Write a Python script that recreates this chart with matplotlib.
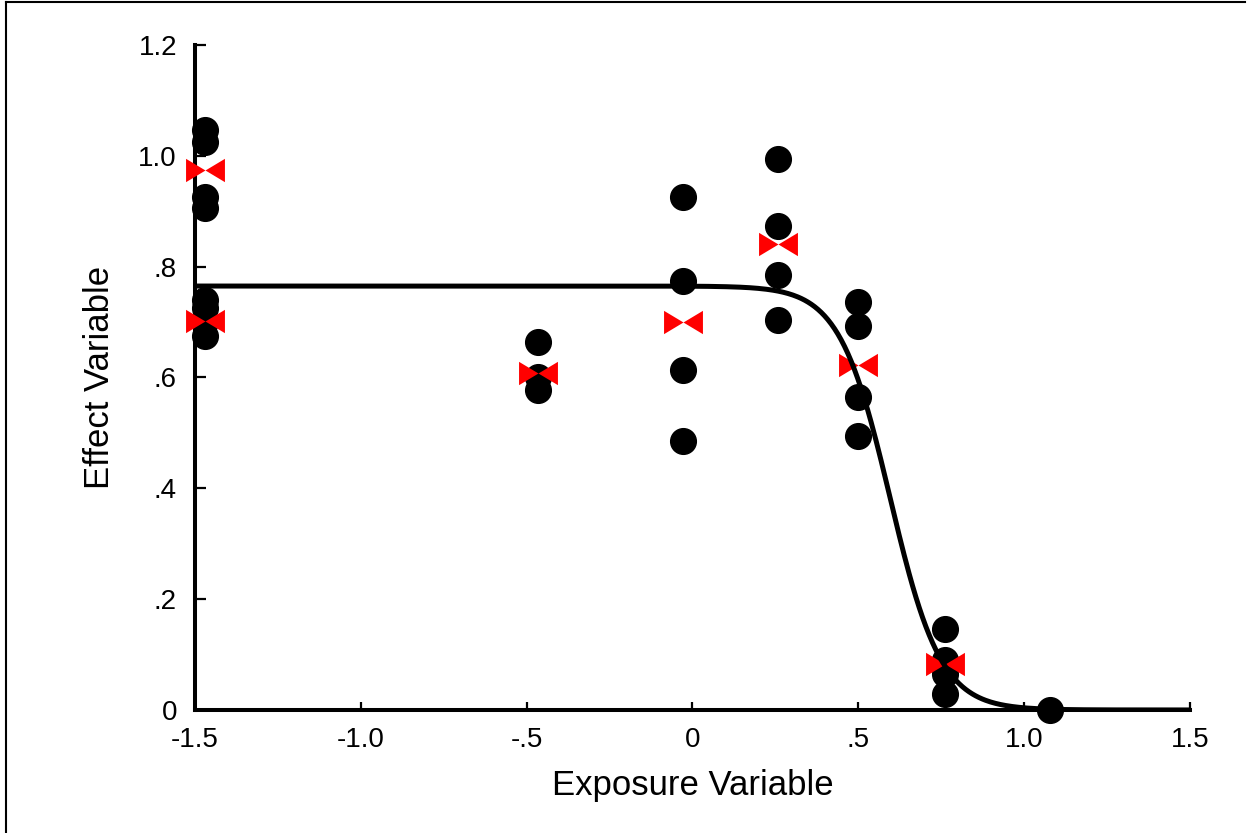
import matplotlib
matplotlib.use("Agg")
import matplotlib.pyplot as plt
from matplotlib.path import Path
from matplotlib.lines import Line2D
import numpy as np
from matplotlib import font_manager

# ---- data ----
x_groups = [-1.47, -1.47, -0.465, -0.028, 0.258, 0.499, 0.761, 1.078]
y_groups = [
    [1.047, 1.025, 0.926, 0.906],
    [0.740, 0.726, 0.700, 0.675],
    [0.664, 0.600, 0.578],
    [0.926, 0.774, 0.614, 0.486],
    [0.995, 0.874, 0.785, 0.704],
    [0.736, 0.693, 0.565, 0.495],
    [0.146, 0.090, 0.065, 0.029],
    [0.000],
]
mean_x = [-1.47, -1.47, -0.465, -0.028, 0.258, 0.499, 0.761]
mean_y = [0.975, 0.702, 0.608, 0.700, 0.841, 0.623, 0.083]

# fitted curve parameters (sigmoid)
fit_top = 0.765
fit_x50 = 0.596
fit_slope = 5.67

x_ticks = [-1.5, -1.0, -0.5, 0, 0.5, 1.0, 1.5]
x_ticklabels = ["-1.5", "-1.0", "-.5", "0", ".5", "1.0", "1.5"]
y_ticks = [0, 0.2, 0.4, 0.6, 0.8, 1.0, 1.2]
y_ticklabels = ["0", ".2", ".4", ".6", ".8", "1.0", "1.2"]

# ---- fonts ----
names = {f.name for f in font_manager.fontManager.ttflist}
fam = "Liberation Sans Narrow" if "Liberation Sans Narrow" in names else "Liberation Sans"
plt.rcParams["font.family"] = [fam, "DejaVu Sans"]

fig = plt.figure(figsize=(12.51, 8.33), dpi=100)
ax = fig.add_axes([0.1559, 0.1477, 0.9512 - 0.1559, 0.946 - 0.1477])

# black circles
for xg, ys in zip(x_groups, y_groups):
    ax.plot([xg] * len(ys), ys, "o", color="black", ms=18.5, mec="black",
            zorder=2, clip_on=False)

# red bowtie markers
bowtie = Path([(-1, -0.6), (-1, 0.6), (0, 0), (1, 0.6), (1, -0.6), (0, 0), (-1, -0.6)],
              [Path.MOVETO, Path.LINETO, Path.LINETO, Path.LINETO, Path.LINETO,
               Path.LINETO, Path.CLOSEPOLY])
ax.plot(mean_x, mean_y, linestyle="none", marker=bowtie, ms=28, color="red",
        mec="none", zorder=3, clip_on=False)

# fitted curve
xc = np.linspace(-1.5, 1.5, 600)
yc = fit_top / (1 + 10 ** ((xc - fit_x50) * fit_slope))
ax.plot(xc, yc, color="black", lw=3.6, zorder=4, solid_capstyle="butt")

ax.set_xlim(-1.5, 1.5)
ax.set_ylim(0, 1.2)
ax.set_xticks(x_ticks)
ax.set_xticklabels(x_ticklabels)
ax.set_yticks(y_ticks)
ax.set_yticklabels(y_ticklabels)

for s in ["top", "right"]:
    ax.spines[s].set_visible(False)
for s in ["left", "bottom"]:
    ax.spines[s].set_linewidth(2.9)
ax.tick_params(axis="both", direction="in", width=1.6, labelsize=20)
ax.tick_params(axis="x", length=6, pad=12)
ax.tick_params(axis="y", length=8, pad=13)

ax.set_xlabel("Exposure Variable", fontsize=25, labelpad=12)
ax.set_ylabel("Effect Variable", fontsize=25, labelpad=16)

# figure frame (top and left lines)
fig.add_artist(Line2D([6 / 1251, 1245 / 1251], [1 - 2 / 833, 1 - 2 / 833],
                      transform=fig.transFigure, color="black", lw=1.5))
fig.add_artist(Line2D([6 / 1251, 6 / 1251], [0, 1 - 2 / 833],
                      transform=fig.transFigure, color="black", lw=1.5))

fig.savefig("out.png", dpi=100)
